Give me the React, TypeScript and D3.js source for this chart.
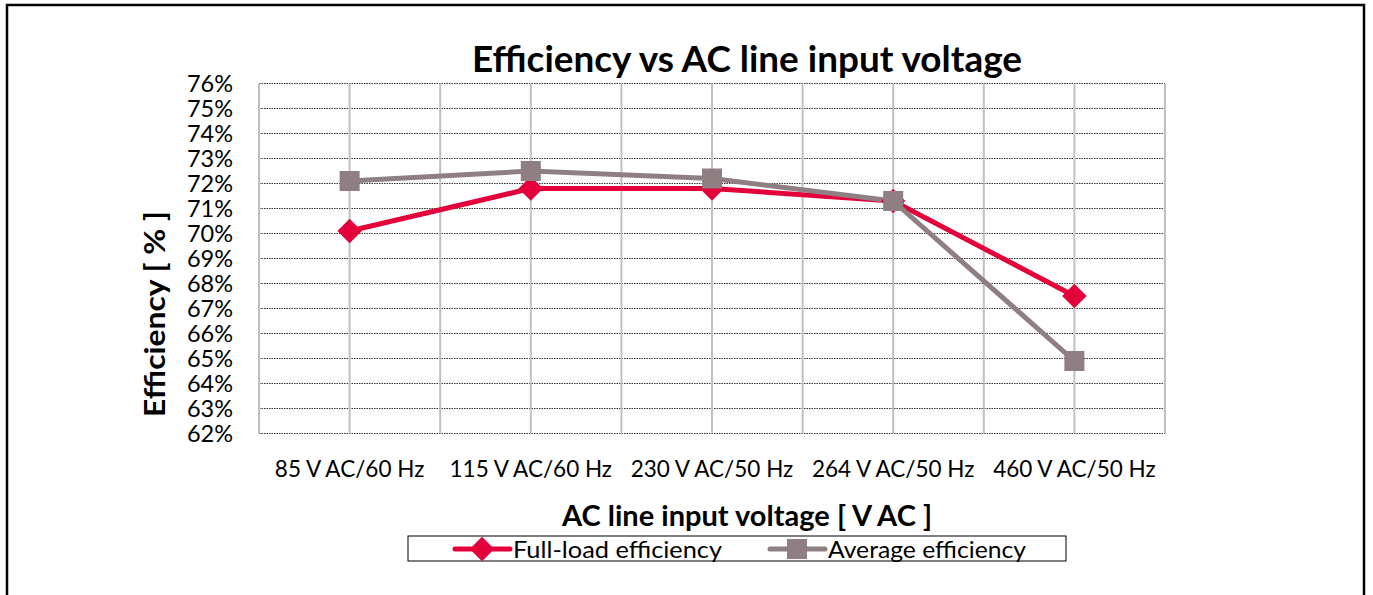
import React from "react";
import * as d3 from "d3";

const categories = [
  "85 V AC/60 Hz",
  "115 V AC/60 Hz",
  "230 V AC/50 Hz",
  "264 V AC/50 Hz",
  "460 V AC/50 Hz",
];
const fullLoad = [70.1, 71.8, 71.8, 71.3, 67.5];
const average = [72.1, 72.5, 72.2, 71.3, 64.9];
const yTicks = [62, 63, 64, 65, 66, 67, 68, 69, 70, 71, 72, 73, 74, 75, 76];

const RED = "#e4003a";
const GRAY = "#8f7f82";
const FONT = "Lato, 'Noto Sans', sans-serif";

const App = () => {
  const width = 1373;
  const height = 595;
  const plot = { left: 259, right: 1165, top: 83.5, bottom: 433.5 };

  const x = d3
    .scaleBand<string>()
    .domain(categories)
    .range([plot.left, plot.right])
    .padding(0);
  const cx = (c: string) => (x(c) as number) + x.bandwidth() / 2;

  const y = d3.scaleLinear().domain([62, 76]).range([plot.bottom, plot.top]);

  const line = d3
    .line<number>()
    .x((_, i) => cx(categories[i]))
    .y((d) => y(d));

  const diamond = d3.symbol(d3.symbolSquare, 300)();
  const square = d3.symbol(d3.symbolSquare, 400)();

  // vertical grid lines at band edges and centers
  const vLines: number[] = [];
  categories.forEach((c) => {
    vLines.push(x(c) as number);
    vLines.push(cx(c));
  });
  vLines.push(plot.right);

  return (
    <svg
      width={width}
      height={height}
      style={{ position: "absolute", left: 0, top: 0, background: "#fff" }}
      fontFamily={FONT}
    >
      {/* outer frame */}
      <rect x={7} y={5} width={1357} height={700} fill="none" stroke="#000" strokeWidth={2.5} />

      {/* title */}
      <text
        x={747}
        y={72}
        textAnchor="middle"
        fontSize={36}
        fontWeight="bold"
        textLength={550}
        lengthAdjust="spacingAndGlyphs"
      >
        Efficiency vs AC line input voltage
      </text>

      {/* horizontal grid */}
      {yTicks.map((t) => (
        <line
          key={t}
          x1={plot.left}
          x2={plot.right}
          y1={y(t)}
          y2={y(t)}
          stroke="#333"
          strokeWidth={1}
          strokeDasharray="1.5,1"
        />
      ))}
      {/* vertical grid */}
      {vLines.map((v, i) => (
        <line
          key={i}
          x1={v}
          x2={v}
          y1={plot.top}
          y2={plot.bottom}
          stroke="#c0c0c0"
          strokeWidth={2}
        />
      ))}

      {/* y tick labels */}
      {yTicks.map((t) => (
        <text key={t} x={233} y={y(t) + 8.5} textAnchor="end" fontSize={23.5} fill="#000">
          {t}%
        </text>
      ))}

      {/* x tick labels */}
      {categories.map((c) => (
        <text key={c} x={cx(c)} y={477} textAnchor="middle" fontSize={22.5} fill="#000">
          {c}
        </text>
      ))}

      {/* axis titles */}
      <text
        transform={`translate(165, 314) rotate(-90)`}
        textAnchor="middle"
        fontSize={28}
        fontWeight="bold"
        textLength={206}
        lengthAdjust="spacingAndGlyphs"
      >
        Efficiency [ % ]
      </text>
      <text
        x={747}
        y={526}
        textAnchor="middle"
        fontSize={28}
        fontWeight="bold"
        textLength={370}
        lengthAdjust="spacingAndGlyphs"
      >
        AC line input voltage [ V AC ]
      </text>

      {/* series */}
      <path d={line(fullLoad) ?? ""} fill="none" stroke={RED} strokeWidth={5} strokeLinejoin="round" />
      <path d={line(average) ?? ""} fill="none" stroke={GRAY} strokeWidth={5} strokeLinejoin="round" />
      {fullLoad.map((v, i) => (
        <path
          key={"f" + i}
          d={diamond ?? ""}
          transform={`translate(${cx(categories[i])},${y(v)}) rotate(45)`}
          fill={RED}
        />
      ))}
      {average.map((v, i) => (
        <path
          key={"a" + i}
          d={square ?? ""}
          transform={`translate(${cx(categories[i])},${y(v)})`}
          fill={GRAY}
        />
      ))}

      {/* legend */}
      <rect x={408} y={536} width={658} height={25} fill="#fff" stroke="#000" strokeWidth={1} />
      <line x1={455} x2={510} y1={549} y2={549} stroke={RED} strokeWidth={5} strokeLinecap="round" />
      <path d={diamond ?? ""} transform="translate(482,549) rotate(45)" fill={RED} />
      <text x={513} y={558} fontSize={23} textLength={209} lengthAdjust="spacingAndGlyphs">
        Full-load efficiency
      </text>
      <line x1={770} x2={825} y1={549} y2={549} stroke={GRAY} strokeWidth={5} strokeLinecap="round" />
      <path d={square ?? ""} transform="translate(797,549)" fill={GRAY} />
      <text x={828} y={558} fontSize={23} textLength={198} lengthAdjust="spacingAndGlyphs">
        Average efficiency
      </text>
    </svg>
  );
};

export default App;
